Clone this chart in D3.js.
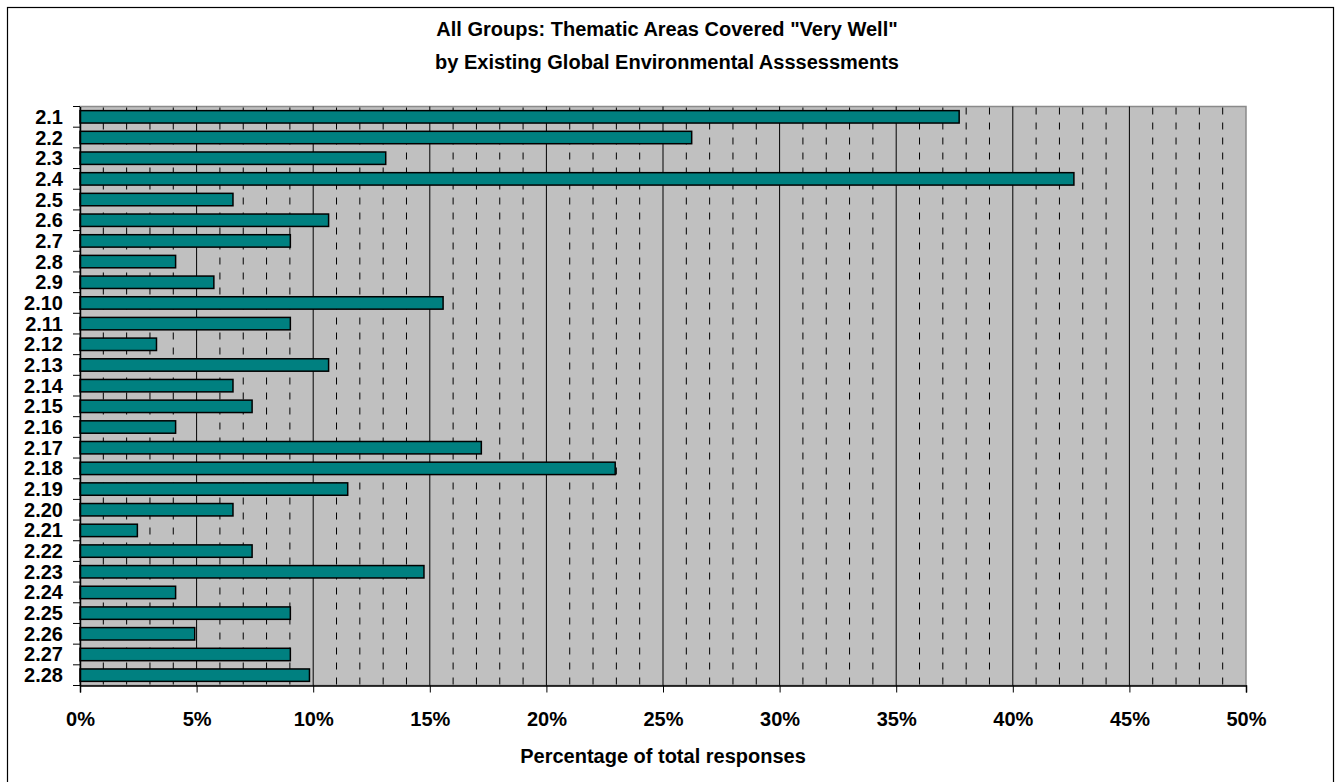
<!DOCTYPE html>
<html><head><meta charset="utf-8">
<script src="https://cdn.jsdelivr.net/npm/d3@7"></script>
<style>body{margin:0;background:#fff;} svg{display:block;}</style>
</head><body>
<script>
const categories = ["2.1","2.2","2.3","2.4","2.5","2.6","2.7","2.8","2.9","2.10","2.11","2.12","2.13","2.14","2.15","2.16","2.17","2.18","2.19","2.20","2.21","2.22","2.23","2.24","2.25","2.26","2.27","2.28"];
const values = [37.70,26.23,13.11,42.62,6.56,10.66,9.02,4.10,5.74,15.57,9.02,3.28,10.66,6.56,7.38,4.10,17.21,22.95,11.48,6.56,2.46,7.38,14.75,4.10,9.02,4.92,9.02,9.84];
const xTicks = [0,5,10,15,20,25,30,35,40,45,50];
const titleLines = ["All Groups: Thematic Areas Covered \"Very Well\"", "by Existing Global Environmental Asssessments"];
const xTitle = "Percentage of total responses";

const W = 1335, H = 782;
const L = 80, R = 1246, T = 106.5, B = 685.5;
const svg = d3.select("body").append("svg").attr("width", W).attr("height", H);
const font = "Liberation Sans, Arial, sans-serif";

svg.append("rect").attr("x",7.5).attr("y",7.5).attr("width",1326).attr("height",790)
  .attr("fill","#fff").attr("stroke","#000").attr("stroke-width",1.2);

const x = d3.scaleLinear().domain([0,50]).range([L,R]);
const y = d3.scaleBand().domain(categories).range([T,B]).paddingInner(0.4).paddingOuter(0.2);
const yb = d3.scaleBand().domain(categories).range([T,B]);

svg.append("rect").attr("x",L).attr("y",T).attr("width",R-L).attr("height",B-T)
  .attr("fill","#c0c0c0").attr("stroke","#8a8a8a").attr("stroke-width",1.5);

const minor = d3.range(1,50).filter(d => d % 5 !== 0);
svg.append("g").selectAll("line").data(minor).join("line")
  .attr("x1",d=>x(d)).attr("x2",d=>x(d)).attr("y1",T+1).attr("y2",B)
  .attr("stroke","#000").attr("stroke-width",1).attr("stroke-dasharray","7,8");
svg.append("g").selectAll("line").data(xTicks.filter(d=>d>0 && d<50)).join("line")
  .attr("x1",d=>x(d)).attr("x2",d=>x(d)).attr("y1",T).attr("y2",B)
  .attr("stroke","#000").attr("stroke-width",1);

svg.append("g").selectAll("rect").data(values).join("rect")
  .attr("x",x(0)).attr("y",(d,i)=>y(categories[i]))
  .attr("width",d=>x(d)-x(0)).attr("height",y.bandwidth())
  .attr("fill","#008080").attr("stroke","#000").attr("stroke-width",1.5);

// axes
const xAxis = d3.axisBottom(x).tickValues(xTicks).tickSize(7).tickFormat(d=>d+"%").tickPadding(19);
const gx = svg.append("g").attr("transform",`translate(0,${B})`).call(xAxis);
gx.select(".domain").attr("stroke","#000").attr("stroke-width",1.5);
gx.selectAll(".tick line").attr("stroke","#000");
gx.selectAll("text").attr("font-family",font).attr("font-weight","bold").attr("font-size",20).attr("fill","#000");

const gy = svg.append("g").attr("transform",`translate(${L},0)`)
  .call(d3.axisLeft(yb).tickSize(0).tickPadding(17));
gy.select(".domain").attr("stroke","#000").attr("stroke-width",1.5);
gy.selectAll("text").attr("font-family",font).attr("font-weight","bold").attr("font-size",20).attr("fill","#000").attr("dy","0.35em");
// category boundary ticks
const bounds = categories.map(c=>yb(c)).concat([B]);
svg.append("g").selectAll("line").data(bounds).join("line")
  .attr("x1",L-7).attr("x2",L).attr("y1",d=>d).attr("y2",d=>d).attr("stroke","#000").attr("stroke-width",1);

svg.append("g").selectAll("text").data(titleLines).join("text")
  .attr("x",667).attr("y",(d,i)=>36+i*33).attr("text-anchor","middle")
  .attr("font-family",font).attr("font-weight","bold").attr("font-size",20).text(d=>d);

svg.append("text").attr("x",x(25)).attr("y",763).attr("text-anchor","middle")
  .attr("font-family",font).attr("font-weight","bold").attr("font-size",20).text(xTitle);
</script>
</body></html>
